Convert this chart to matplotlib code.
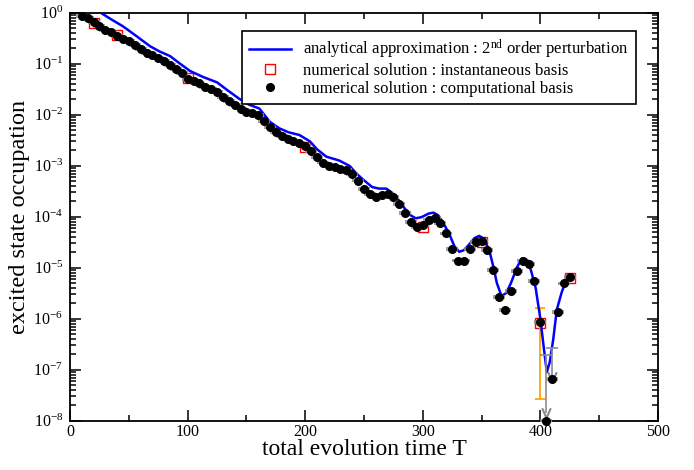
import matplotlib
matplotlib.use('Agg')
import matplotlib.pyplot as plt
import numpy as np
from matplotlib.ticker import LogLocator, MultipleLocator, NullFormatter

plt.rcParams['font.family'] = ['Liberation Serif', 'DejaVu Serif']
plt.rcParams['mathtext.fontset'] = 'custom'
plt.rcParams['mathtext.rm'] = 'Liberation Serif'
plt.rcParams['mathtext.it'] = 'Liberation Serif:italic'
plt.rcParams['mathtext.bf'] = 'Liberation Serif:bold'

# analytical approximation (2nd order perturbation)
t_ana = [10, 15, 20, 26, 35, 45, 57, 68, 76, 85, 93, 102, 113, 125, 134, 144, 152, 161,
         170, 178, 186, 195, 204, 210, 218, 229, 238, 243, 249, 257, 263, 269, 277, 281,
         286, 290, 294, 299, 305, 309, 313, 318, 323, 327, 331, 335, 340, 344, 348, 352,
         357, 360, 363, 367, 371, 375, 380, 384, 388, 392, 396, 400, 403, 405.5, 408, 411,
         414, 418, 421, 425]
p_ana = [1.66, 1.41, 1.2, 1.0, 0.74, 0.54, 0.34, 0.22, 0.174, 0.141, 0.102, 0.072, 0.055,
         0.043, 0.030, 0.0204, 0.0158, 0.0132, 7.2e-3, 5.4e-3, 4.5e-3, 4.0e-3, 3.0e-3,
         2.1e-3, 1.5e-3, 1.26e-3, 9.8e-4, 7.2e-4, 5.4e-4, 3.8e-4, 3.55e-4, 3.55e-4, 2.6e-4,
         1.86e-4, 1.32e-4, 1.05e-4, 9.3e-5, 9.8e-5, 1.15e-4, 1.2e-4, 1.07e-4, 7.2e-5,
         4.3e-5, 2.6e-5, 2.05e-5, 2.2e-5, 2.95e-5, 3.8e-5, 4.2e-5, 3.7e-5, 2.0e-5, 1.05e-5,
         5.0e-6, 2.75e-6, 3.2e-6, 5.0e-6, 1.0e-5, 1.5e-5, 1.45e-5, 8.9e-6, 4.0e-6, 1.0e-6,
         2.6e-7, 8.9e-8, 1.4e-7, 4.0e-7, 1.5e-6, 3.2e-6, 5.0e-6, 7.2e-6]

# numerical solution, instantaneous basis
t_inst = [20, 40, 100, 200, 300, 350, 400, 425]
p_inst = [0.62, 0.37, 0.052, 2.35e-3, 6.3e-5, 3.2e-5, 8.3e-7, 6.3e-6]
# error bar of the T=400 point (lower, upper)
inst_err_lo = [2.7e-8]
inst_err_hi = [1.6e-6]

# numerical solution, computational basis
t_comp = [10, 15, 20, 25, 30, 35, 40, 45, 50, 55, 60, 65, 70, 75, 80, 85, 90, 95,
          100, 105, 110, 115, 120, 125, 130, 135, 140, 145, 150, 155, 160, 165, 170,
          175, 180, 185, 190, 195, 200, 205, 210, 215, 220, 225, 230, 235, 240, 245,
          250, 255, 260, 265, 270, 275, 280, 285, 290, 295, 300, 305, 310, 315, 320,
          325, 330, 335, 340, 345, 350, 355, 360, 365, 370, 375, 380, 385, 390, 395,
          400, 405, 410, 415, 420, 425]
p_comp = [0.87, 0.78, 0.65, 0.54, 0.46, 0.42, 0.355, 0.31, 0.275, 0.23, 0.195, 0.162,
          0.145, 0.129, 0.112, 0.093, 0.078, 0.065, 0.050, 0.046, 0.041, 0.035, 0.032,
          0.0275, 0.0224, 0.0186, 0.0155, 0.0132, 0.0115, 0.0107, 9.8e-3, 7.6e-3, 5.8e-3,
          4.6e-3, 3.8e-3, 3.3e-3, 3.1e-3, 2.8e-3, 2.45e-3, 1.9e-3, 1.48e-3, 1.15e-3,
          9.8e-4, 9.3e-4, 8.7e-4, 8.3e-4, 6.9e-4, 5.1e-4, 3.5e-4, 2.75e-4, 2.45e-4,
          2.7e-4, 2.75e-4, 2.45e-4, 1.8e-4, 1.2e-4, 7.8e-5, 6.2e-5, 6.8e-5, 8.5e-5,
          9.3e-5, 7.6e-5, 4.7e-5, 2.35e-5, 1.38e-5, 1.38e-5, 2.3e-5, 3.2e-5, 3.4e-5,
          2.25e-5, 9.1e-6, 2.7e-6, 1.5e-6, 3.5e-6, 8.7e-6, 1.38e-5, 1.2e-5, 5.4e-6,
          8.7e-7, 1.0e-8, 6.6e-8, 1.35e-6, 4.9e-6, 6.5e-6]
comp_rel_err = 0.04
# points whose lower error reaches below the plot (arrow marks)
t_lim = [405, 410]
lim_top = [1.9e-7, 2.6e-7]
lim_bottom = [1.4e-8, 7.1e-8]

fig = plt.figure(figsize=(6.94, 4.70), dpi=100)
ax = fig.add_axes([0.101, 0.105, 0.847, 0.868])

ax.plot(t_inst, p_inst, 's', ms=7.5, mfc='none', mec='#ff0000', mew=1.0,
        label='numerical solution : instantaneous basis', zorder=2)
ax.errorbar([t_inst[-2]], [p_inst[-2]],
            yerr=[[p_inst[-2] - inst_err_lo[0]], [inst_err_hi[0] - p_inst[-2]]],
            fmt='none', ecolor='#ffa500', elinewidth=1.3, capsize=3.8, capthick=1.3, zorder=2)
ax.plot(t_ana, p_ana, '-', color='#0000ff', lw=1.8,
        label=r'analytical approximation : 2$^{\mathrm{nd}}$ order perturbation', zorder=3)

p_comp_arr = np.array(p_comp)
ax.errorbar(t_comp, p_comp, yerr=p_comp_arr * comp_rel_err, fmt='none', ecolor='#8c8c8c',
            elinewidth=1.0, capsize=4, capthick=1.2, zorder=3)
ax.vlines(t_lim, lim_bottom, lim_top, color='#8c8c8c', lw=1.2, zorder=3)
ax.plot(t_lim, lim_top, '_', color='#8c8c8c', ms=8, mew=1.2, zorder=3)
ax.plot(t_lim, lim_bottom, marker=r'$\vee$', ls='none', color='#8c8c8c', ms=7, zorder=3)
ax.plot(t_comp, p_comp, 'o', ms=5.5, color='black', clip_on=False,
        label='numerical solution : computational basis', zorder=4)

ax.set_yscale('log')
ax.set_xlim(0, 500)
ax.set_ylim(1e-8, 1)
ax.xaxis.set_major_locator(MultipleLocator(100))
ax.xaxis.set_minor_locator(MultipleLocator(50))
ax.yaxis.set_major_locator(LogLocator(base=10, numticks=20))
ax.yaxis.set_minor_locator(LogLocator(base=10, subs=np.arange(2, 10), numticks=20))
ax.yaxis.set_minor_formatter(NullFormatter())
ax.tick_params(which='both', direction='in', top=True, right=True, labelsize=11.5, width=1.1)
ax.tick_params(which='major', length=8)
ax.tick_params(which='minor', length=4.3)
ax.tick_params(axis='x', which='major', pad=2.5)
ax.tick_params(axis='y', which='major', pad=5)
for s in ax.spines.values():
    s.set_linewidth(1.3)

ax.set_xlabel('total evolution time T', fontsize=17, labelpad=-1)
ax.set_ylabel('excited state occupation', fontsize=17.5, labelpad=2)

h, l = ax.get_legend_handles_labels()
order = [1, 0, 2]
leg = ax.legend([h[i] for i in order], [l[i] for i in order], loc='upper right',
                bbox_to_anchor=(0.962, 0.956), borderaxespad=0, fontsize=12,
                frameon=True, fancybox=False, framealpha=1, edgecolor='black',
                handlelength=2.5, handletextpad=0.7, labelspacing=0.1, borderpad=0.45)
leg.get_frame().set_linewidth(1.2)

fig.savefig('out.png', dpi=100)
